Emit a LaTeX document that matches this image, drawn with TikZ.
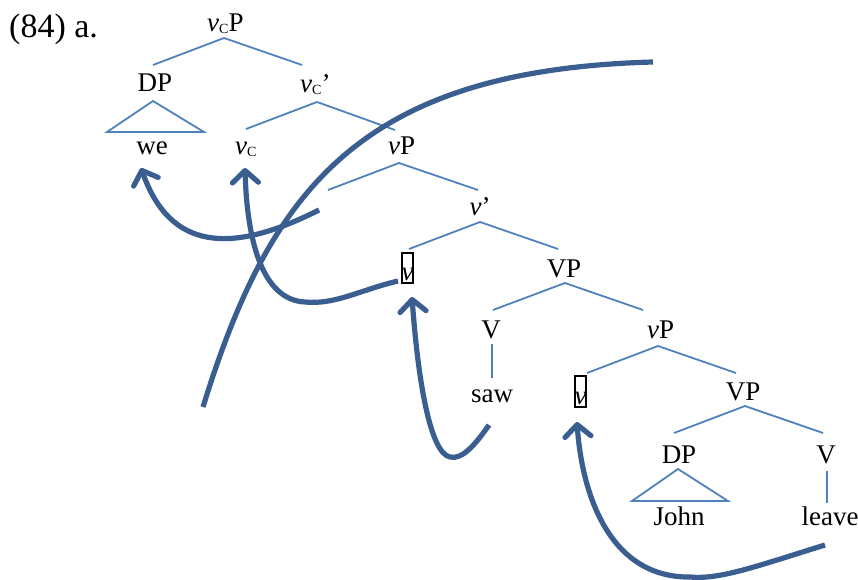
\documentclass[tikz,border=0pt]{standalone}
\usepackage{fontspec}
\setmainfont{Liberation Serif}
\usetikzlibrary{arrows.meta}
\definecolor{treeblue}{HTML}{4F81BD}
\definecolor{arrowblue}{HTML}{3A5E8F}
\newcommand{\subC}{\raisebox{-1.5pt}{\fontsize{14}{14}\selectfont C}}
\tikzset{
  lbl/.style={inner sep=0pt, font=\fontsize{27}{30}\selectfont, anchor=base},
  lblw/.style={lbl, anchor=base west},
  branch/.style={draw=treeblue, line width=1.8pt},
  movearrow/.style={draw=arrowblue, line width=5.2pt,
    -{Straight Barb[length=12pt,width=26pt,line cap=round,line join=round]}},
  movecurve/.style={draw=arrowblue, line width=5.2pt},
  headbox/.style={draw=black, line width=1.6pt, inner sep=0pt, minimum width=11pt, minimum height=30pt}
}
\begin{document}
\begin{tikzpicture}[x=1pt,y=-1pt]
\useasboundingbox (0,0) rectangle (858,580);
% labels
\node[inner sep=0pt, anchor=base west, font=\fontsize{34}{38}\selectfont] (ex) at (9,38) {(84) a.};
\node[lblw] (vCP) at (207,32) {\textit{v}\subC P};
\node[lbl] (DP1) at (155,92) {DP};
\node[lbl] (we) at (152,154) {we};
\node[lblw] (vCbar) at (300,93) {\textit{v}\subC’};
\node[lblw] (vC) at (235,155) {\textit{v}\subC};
\node[lblw] (vP1) at (388,155) {\textit{v}P};
\node[lbl] (vbar) at (480,215) {\textit{v}’};
\node[headbox] (v1) at (407.5,268) {};
\node[lbl] (v1t) at (407.5,280) {\textit{v}};
\node[lbl] (VP1) at (564,277) {VP};
\node[lbl] (V1) at (491,338) {V};
\node[lbl] (saw) at (492,402) {saw};
\node[lblw] (vP2) at (647,338) {\textit{v}P};
\node[headbox, minimum height=31pt] (v2) at (580.5,391.5) {};
\node[lbl] (v2t) at (580.5,404) {\textit{v}};
\node[lbl] (VP2) at (743,400) {VP};
\node[lbl] (DP2) at (679,463) {DP};
\node[lbl] (John) at (679,525) {John};
\node[lbl] (V2) at (826,463) {V};
\node[lbl] (leave) at (830,525) {leave};
% branch points
\coordinate (a0) at (224,38); \coordinate (a1) at (153,65); \coordinate (a2) at (302,65);
\coordinate (t0) at (153,101); \coordinate (t1) at (107,132); \coordinate (t2) at (204,132);
\coordinate (b0) at (317,102); \coordinate (b1) at (246,129); \coordinate (b2) at (395,130);
\coordinate (c0) at (399,163); \coordinate (c1) at (328,190); \coordinate (c2) at (478,190);
\coordinate (d0) at (480,222); \coordinate (d1) at (409,249); \coordinate (d2) at (558,249);
\coordinate (e0) at (565,283); \coordinate (e1) at (493,310); \coordinate (e2) at (643,310);
\coordinate (f0) at (492,344); \coordinate (f1) at (492,378);
\coordinate (g0) at (658,346); \coordinate (g1) at (587,373); \coordinate (g2) at (736,373);
\coordinate (h0) at (745,406); \coordinate (h1) at (674,433); \coordinate (h2) at (823,433);
\coordinate (u0) at (678,469); \coordinate (u1) at (632,501); \coordinate (u2) at (728,501);
\coordinate (k0) at (827,471); \coordinate (k1) at (827,503);
\draw[branch] (a1) -- (a0) -- (a2);
\draw[branch] (t0) -- (t1) -- (t2) -- cycle;
\draw[branch] (b1) -- (b0) -- (b2);
\draw[branch] (c1) -- (c0) -- (c2);
\draw[branch] (d1) -- (d0) -- (d2);
\draw[branch] (e1) -- (e0) -- (e2);
\draw[branch] (f0) -- (f1);
\draw[branch] (g1) -- (g0) -- (g2);
\draw[branch] (h1) -- (h0) -- (h2);
\draw[branch] (u0) -- (u1) -- (u2) -- cycle;
\draw[branch] (k0) -- (k1);
% movement arrows
\coordinate (m1s) at (319,210); \coordinate (m1e) at (141,168);
\coordinate (m2s) at (398,281); \coordinate (m2m) at (305,302); \coordinate (m2e) at (245,168);
\coordinate (m3s) at (203,407); \coordinate (m3e) at (653,62);
\coordinate (m4s) at (489,425); \coordinate (m4m) at (450,457); \coordinate (m4e) at (412,297);
\coordinate (m5s) at (825,545); \coordinate (m5m) at (690,577); \coordinate (m5e) at (577,422);
\draw[movearrow] (m1s) .. controls (230,255) and (170,250) .. (m1e);
\draw[movearrow] (m2s) .. controls (360,290) and (335,305) .. (m2m) .. controls (262,300) and (247,240) .. (m2e);
\draw[movecurve] (m3s) .. controls (270,190) and (360,70) .. (m3e);
\draw[movearrow] (m4s) .. controls (475,445) and (462,460) .. (m4m) .. controls (430,453) and (418,380) .. (m4e);
\draw[movearrow] (m5s) .. controls (760,565) and (720,580) .. (m5m) .. controls (610,578) and (582,495) .. (m5e);
\end{tikzpicture}
\end{document}
